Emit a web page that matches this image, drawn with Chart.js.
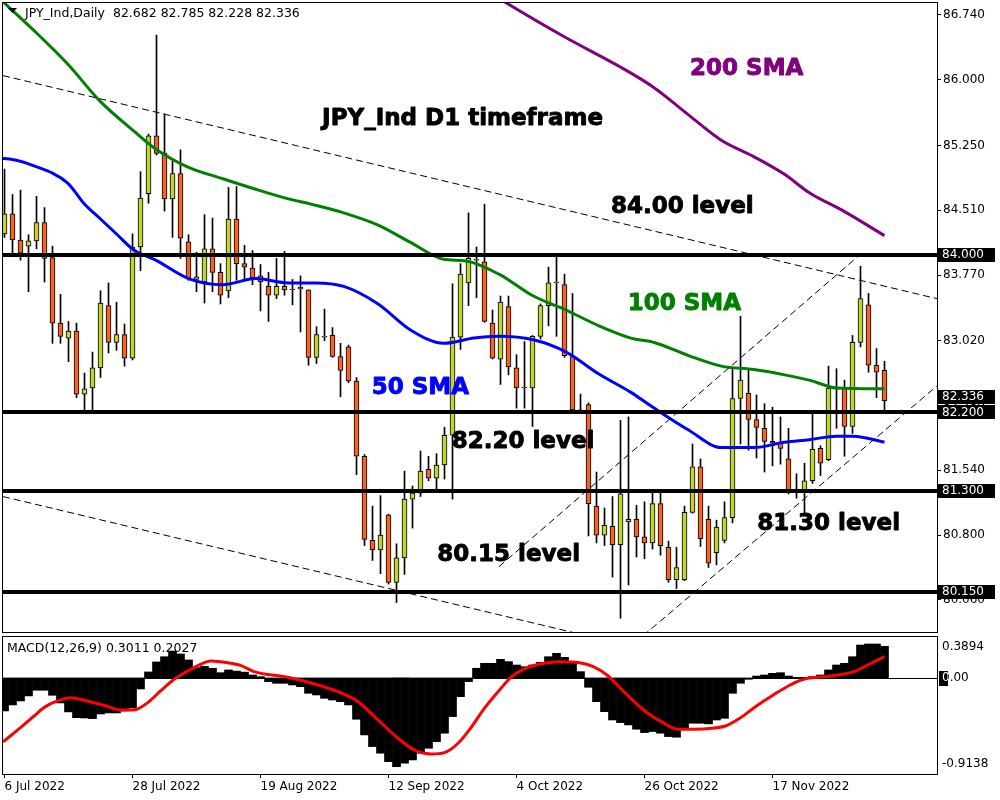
<!DOCTYPE html>
<html>
<head>
<meta charset="utf-8">
<script src="https://cdn.jsdelivr.net/npm/chart.js@4.4.0/dist/chart.umd.min.js"></script>
<style>
html, body { margin: 0; padding: 0; background: #fff; }
#wrap { position: relative; width: 1000px; height: 800px; overflow: hidden; }
#main { position: absolute; left: 0; top: 0; }
#macd { position: absolute; left: 0; top: 634px; }
</style>
</head>
<body>
<div id="wrap">
  <canvas id="main" width="1000" height="634"></canvas>
  <canvas id="macd" width="1000" height="166"></canvas>
</div>
<script>
// date ticks on the bottom axis (bar index -> label)
const tickBars = [0, 16, 32, 48, 64, 80, 96];
const tickLabels = ['6 Jul 2022', '28 Jul 2022', '19 Aug 2022', '12 Sep 2022', '4 Oct 2022', '26 Oct 2022', '17 Nov 2022'];

// daily candles, 6 Jul 2022 .. 7 Dec 2022
const opens = [
  84.24, 84.47, 84.17, 84.10, 84.16, 84.37, 83.97, 83.22, 83.05, 83.13,
  82.41, 82.48, 82.71, 83.42, 83.00, 83.09, 82.82, 84.09, 84.70, 85.36,
  85.16, 84.64, 84.93, 84.15, 83.72, 83.69, 84.07, 83.80, 83.59, 84.41,
  83.90, 83.85, 83.76, 83.64, 83.54, 83.64, 83.61, 83.63, 83.60, 82.83,
  83.06, 83.08, 82.84, 82.95, 82.56, 81.70, 80.74, 80.63, 81.03, 80.26,
  80.54, 81.21, 81.28, 81.55, 81.45, 81.60, 81.94, 83.06, 83.68, 83.94,
  83.92, 83.22, 82.81, 83.41, 82.71, 82.49, 82.48, 83.07, 83.42, 83.68,
  83.66, 82.84, 82.23, 82.29, 81.13, 80.80, 80.90, 80.69, 80.95, 80.98,
  80.78, 80.71, 81.16, 80.66, 80.29, 80.29, 81.06, 81.58, 80.98, 80.60,
  80.74, 81.00, 82.36, 82.42, 82.12, 82.02, 81.87, 81.85, 81.67, 81.31,
  81.31, 81.42, 81.79, 81.66, 82.48, 82.48, 82.04, 83.00, 83.43, 82.74,
  82.682
];
const highs = [
  84.98, 84.69, 84.74, 84.23, 84.67, 84.54, 84.10, 83.55, 83.24, 83.22,
  82.65, 82.89, 83.59, 83.68, 83.46, 83.21, 84.24, 84.95, 85.38, 86.51,
  85.61, 85.07, 85.20, 84.23, 84.03, 84.46, 84.42, 83.90, 84.77, 84.78,
  84.11, 84.05, 83.89, 83.80, 83.96, 84.04, 83.72, 83.76, 83.60, 83.18,
  83.38, 83.17, 82.99, 82.97, 82.60, 81.72, 81.13, 81.25, 81.04, 80.70,
  81.53, 81.36, 81.76, 81.70, 81.73, 82.03, 83.67, 83.90, 84.48, 84.09,
  84.58, 83.37, 83.53, 83.53, 82.86, 83.01, 83.08, 83.44, 83.86, 83.98,
  83.78, 83.56, 82.41, 82.31, 81.52, 81.11, 81.24, 82.11, 82.15, 81.14,
  81.18, 81.28, 81.28, 80.73, 80.66, 81.13, 81.84, 81.67, 81.13, 80.97,
  81.18, 82.71, 83.30, 82.69, 82.40, 82.30, 82.26, 82.15, 82.02, 81.50,
  81.62, 82.20, 81.82, 82.73, 82.70, 82.57, 83.08, 83.87, 83.56, 82.93,
  82.785
];
const lows = [
  84.20, 84.02, 83.94, 83.58, 84.07, 83.69, 82.99, 82.99, 82.78, 82.37,
  82.23, 82.23, 82.60, 82.88, 82.91, 82.73, 82.80, 83.82, 84.59, 85.14,
  84.50, 84.20, 83.96, 83.71, 83.58, 83.45, 83.58, 83.44, 83.51, 83.71,
  83.71, 83.66, 83.36, 83.24, 83.50, 83.54, 83.43, 83.12, 82.74, 82.76,
  83.02, 82.83, 82.38, 82.54, 81.49, 80.68, 80.51, 80.36, 80.24, 80.03,
  80.35, 80.88, 81.24, 81.42, 81.31, 81.44, 81.21, 82.92, 83.42, 83.51,
  83.23, 82.81, 82.52, 82.63, 82.25, 82.25, 82.04, 83.04, 83.19, 83.07,
  82.83, 82.23, 82.20, 80.79, 80.71, 80.68, 80.32, 79.85, 80.23, 80.55,
  80.53, 80.64, 80.57, 80.26, 80.19, 80.28, 81.05, 80.67, 80.43, 80.46,
  80.71, 80.94, 81.84, 81.77, 81.68, 81.52, 81.59, 81.61, 81.27, 81.22,
  81.05, 81.39, 81.48, 81.65, 82.02, 81.70, 81.96, 82.95, 82.66, 82.37,
  82.228
];
const closes = [
  84.47, 84.17, 84.02, 84.16, 84.37, 83.96, 83.22, 83.07, 83.13, 82.41,
  82.47, 82.71, 83.45, 83.00, 83.09, 82.82, 84.09, 84.65, 85.36, 85.16,
  84.64, 84.93, 84.19, 83.73, 83.75, 84.07, 83.80, 83.54, 84.41, 83.90,
  83.86, 83.74, 83.69, 83.54, 83.64, 83.60, 83.60, 83.61, 82.83, 83.09,
  83.07, 82.84, 82.68, 82.56, 81.70, 80.75, 80.63, 80.80, 80.26, 80.54,
  81.21, 81.28, 81.53, 81.45, 81.60, 81.94, 83.06, 83.78, 83.96, 83.95,
  83.24, 82.82, 83.46, 82.72, 82.48, 82.48, 83.07, 83.42, 83.68, 83.69,
  82.85, 82.23, 82.22, 81.16, 80.80, 80.91, 80.69, 81.27, 80.98, 80.78,
  80.71, 81.16, 80.68, 80.29, 80.43, 81.06, 81.58, 80.76, 80.48, 80.89,
  81.00, 82.36, 82.57, 82.12, 82.03, 81.87, 81.85, 81.79, 81.31, 81.30,
  81.42, 81.78, 81.62, 82.48, 82.47, 82.04, 83.00, 83.50, 82.74, 82.66,
  82.336
];

// moving averages: [bar index, price]
const sma50 = [
  [-1, 85.10], [-0.1, 85.10], [3.6, 85.02], [7.9, 84.82], [9.9, 84.59], [12.0, 84.41],
  [14.1, 84.23], [16.1, 84.06], [18.9, 83.94], [23.0, 83.73], [27.3, 83.66],
  [31.4, 83.73], [35.5, 83.68], [38.9, 83.68], [42.4, 83.64], [46.7, 83.44],
  [50.8, 83.14], [54.9, 82.99], [58.7, 83.05], [61.8, 83.07], [66.1, 83.03],
  [70.2, 82.89], [74.3, 82.64], [78.3, 82.43], [81.2, 82.25], [85.5, 82.00],
  [89.6, 81.80], [93.7, 81.80], [97.5, 81.86], [100.6, 81.89], [104.0, 81.93],
  [106.1, 81.93], [110, 81.86]
];
const sma100 = [
  [-1, 86.96], [3.6, 86.57], [7.9, 86.18], [12.0, 85.75], [16.1, 85.42], [18.9, 85.21],
  [23.0, 85.00], [27.3, 84.87], [31.4, 84.75], [35.5, 84.64], [38.3, 84.58],
  [42.4, 84.48], [46.7, 84.34], [50.8, 84.14], [54.9, 83.95], [57.7, 83.93],
  [61.8, 83.78], [66.1, 83.53], [70.2, 83.37], [74.3, 83.19], [78.3, 83.05],
  [81.2, 83.00], [85.5, 82.85], [89.6, 82.73], [93.7, 82.69], [97.5, 82.63],
  [100.6, 82.57], [104.0, 82.48], [110, 82.47]
];
const sma200 = [
  [61.5, 86.95], [62.7, 86.88], [70.2, 86.48], [77.1, 86.14], [81.2, 85.91],
  [85.5, 85.60], [89.6, 85.31], [93.7, 85.12], [97.5, 84.92], [100.6, 84.71],
  [104.9, 84.50], [110, 84.22]
];

// dashed channel lines: two ends each, [bar index, price]
const trendLines = [
  [[-0.19, 86.048], [116.56, 83.50]],
  [[-0.19, 81.24], [72.8, 79.65]],
  [[61.8, 80.439], [106.9, 84.00]],
  [[79.8, 79.648], [116.56, 82.503]]
];

// horizontal levels and right axis ticks
const levels = [84.0, 82.2, 81.3, 80.15];
const priceTicks = [86.74, 86.0, 85.25, 84.51, 83.77, 83.02, 82.28, 81.54, 80.8, 80.06];
const priceBoxes = [['84.000', 84.0, 0], ['82.336', 82.336, -4], ['82.200', 82.2, 0], ['81.300', 81.3, 0], ['80.150', 80.15, 0]];

// text notes: [text, bar index, price, colour]
const notes = [
  ['JPY_Ind D1 timeframe', 39.7, 85.552, '#000000'],
  ['200 SMA', 85.7, 86.123, '#800080'],
  ['84.00 level', 75.8, 84.547, '#000000'],
  ['100 SMA', 77.9, 83.44, '#008000'],
  ['50 SMA', 45.9, 82.48, '#0000ff'],
  ['82.20 level', 55.9, 81.862, '#000000'],
  ['80.15 level', 54.1, 80.573, '#000000'],
  ['81.30 level', 94.1, 80.93, '#000000']
];

// MACD(12,26,9)
const macdHist = [
  -0.314, -0.257, -0.219, -0.171, -0.117, -0.117, -0.165, -0.238, -0.323, -0.378,
  -0.381, -0.387, -0.343, -0.333, -0.333, -0.314, -0.286, -0.105, 0.057, 0.152,
  0.202, 0.256, 0.228, 0.171, 0.098, 0.110, 0.092, 0.050, 0.076, 0.065,
  0.055, 0.028, 0.012, -0.035, -0.051, -0.051, -0.067, -0.083, -0.146, -0.162,
  -0.194, -0.210, -0.226, -0.257, -0.393, -0.542, -0.653, -0.716, -0.796, -0.843,
  -0.811, -0.780, -0.716, -0.669, -0.606, -0.526, -0.368, -0.178, -0.035, 0.092,
  0.139, 0.139, 0.177, 0.155, 0.123, 0.107, 0.123, 0.149, 0.202, 0.234,
  0.196, 0.139, 0.060, -0.089, -0.226, -0.321, -0.400, -0.425, -0.447, -0.488,
  -0.520, -0.510, -0.526, -0.558, -0.564, -0.478, -0.431, -0.431, -0.437, -0.400,
  -0.384, -0.146, -0.051, -0.013, 0.018, 0.028, 0.044, 0.050, 0.018, 0.005,
  0.005, 0.012, 0.028, 0.076, 0.123, 0.139, 0.202, 0.313, 0.323, 0.323,
  0.301
];
const macdSignal = [
  [-0.2, -0.609], [2.0, -0.473], [3.7, -0.362], [4.9, -0.283], [6.6, -0.219], [8.3, -0.188],
  [10.3, -0.219], [12.4, -0.260], [14.5, -0.304], [16.2, -0.304], [17.9, -0.235],
  [19.5, -0.124], [21.2, -0.013], [22.9, 0.066], [24.5, 0.130], [25.8, 0.161],
  [27.9, 0.145], [29.5, 0.120], [31.2, 0.060], [35.4, 0.006], [39.2, -0.067],
  [41.7, -0.131], [44.2, -0.226], [46.7, -0.400], [49.2, -0.574], [51.2, -0.685],
  [53.3, -0.723], [55.0, -0.710], [56.7, -0.621], [58.3, -0.474], [60.0, -0.288],
  [61.7, -0.131], [63.4, 0.012], [65.1, 0.092], [66.8, 0.130], [69.3, 0.155],
  [71.9, 0.145], [73.6, 0.107], [75.3, 0.028], [77.0, -0.098], [78.7, -0.226],
  [80.4, -0.336], [82.1, -0.416], [84.2, -0.488], [86.3, -0.488], [88.4, -0.479],
  [90.1, -0.457], [91.9, -0.384], [94.0, -0.266], [96.1, -0.162], [98.2, -0.067],
  [99.9, -0.013], [102.4, 0.012], [104.9, 0.038], [106.2, 0.060], [107.9, 0.123],
  [110, 0.2027]
];
const macdTicks = [['0.3894', 0.3894], ['0.00', 0], ['-0.9138', -0.9138]];

// ---- chart setup ----
const xMin = -0.1875, xMax = 116.5625;   // 8px per bar
const priceMin = 79.693, priceMax = 86.877;
const macdMin = -0.9138, macdMax = 0.3894;
const bullColor = '#c3d330';
const bearColor = '#f26522';
const axisFont = { family: 'DejaVu Sans', size: 12 };

const bars = closes.map((c, i) => i);
const bodyColors = bars.map(i => closes[i] >= opens[i] ? bullColor : bearColor);
const toPts = arr => arr.map(p => ({ x: p[0], y: p[1] }));

function smaSet(points, color) {
  return {
    type: 'line', data: toPts(points), borderColor: color, borderWidth: 3,
    pointRadius: 0, cubicInterpolationMode: 'monotone', clip: 0, order: 2
  };
}

const mainOverlay = {
  id: 'mainOverlay',
  afterDatasetsDraw(chart) {
    const { ctx, chartArea: a, scales: { x, y } } = chart;
    ctx.save();
    // level lines
    ctx.strokeStyle = '#000';
    ctx.lineWidth = 4;
    levels.forEach(v => {
      const py = Math.round(y.getPixelForValue(v));
      ctx.beginPath();
      ctx.moveTo(a.left, py);
      ctx.lineTo(a.right + 4, py);
      ctx.stroke();
    });
    // text notes, stroked a little to look heavier
    ctx.font = 'bold 23px "DejaVu Sans"';
    ctx.textBaseline = 'middle';
    ctx.textAlign = 'left';
    ctx.lineWidth = 0.9;
    ctx.lineJoin = 'round';
    notes.forEach(n => {
      const px = x.getPixelForValue(n[1]);
      const py = y.getPixelForValue(n[2]);
      ctx.fillStyle = n[3];
      ctx.strokeStyle = n[3];
      ctx.fillText(n[0], px, py);
      ctx.strokeText(n[0], px, py);
    });
    ctx.restore();
  },
  afterDraw(chart) {
    const { ctx, chartArea: a, scales: { y } } = chart;
    ctx.save();
    // frame
    ctx.strokeStyle = '#000';
    ctx.lineWidth = 1;
    ctx.strokeRect(a.left - 0.5, a.top - 0.5, a.right - a.left + 1, a.bottom - a.top + 1);
    // header
    ctx.fillStyle = '#000';
    ctx.beginPath();
    ctx.moveTo(8, 8); ctx.lineTo(17, 8); ctx.lineTo(12.5, 13); ctx.closePath();
    ctx.fill();
    ctx.font = '12.5px "DejaVu Sans"';
    ctx.textBaseline = 'middle';
    ctx.fillText('JPY_Ind,Daily  82.682 82.785 82.228 82.336', 25, 14);
    // price boxes on the axis
    ctx.font = '12px "DejaVu Sans"';
    priceBoxes.forEach(b => {
      const py = y.getPixelForValue(b[1]) + b[2];
      ctx.fillStyle = '#000';
      ctx.fillRect(a.right, Math.round(py - 7), 58, 14);
      ctx.fillStyle = '#fff';
      ctx.fillText(b[0], a.right + 5, py);
    });
    ctx.restore();
  }
};

const macdOverlay = {
  id: 'macdOverlay',
  beforeDatasetsDraw(chart) {
    const { ctx, chartArea: a, scales: { y } } = chart;
    const py = Math.round(y.getPixelForValue(0)) + 0.5;
    ctx.save();
    ctx.strokeStyle = '#000';
    ctx.lineWidth = 1;
    ctx.beginPath();
    ctx.moveTo(a.left, py);
    ctx.lineTo(a.right, py);
    ctx.stroke();
    ctx.restore();
  },
  afterDraw(chart) {
    const { ctx, chartArea: a, scales: { y } } = chart;
    ctx.save();
    ctx.strokeStyle = '#000';
    ctx.lineWidth = 1;
    ctx.strokeRect(a.left - 0.5, a.top - 0.5, a.right - a.left + 1, a.bottom - a.top + 1);
    ctx.font = '12.5px "DejaVu Sans"';
    ctx.textBaseline = 'middle';
    ctx.fillStyle = '#000';
    ctx.fillText('MACD(12,26,9) 0.3011 0.2027', 7, a.top + 12);
    // axis labels, kept inside the panel at the ends
    ctx.font = '12px "DejaVu Sans"';
    macdTicks.forEach(t => {
      let py = y.getPixelForValue(t[1]);
      if (t[1] === macdMax) py += 10;
      if (t[1] === macdMin) py -= 10;
      if (t[1] === 0) {
        ctx.fillStyle = '#000';
        ctx.fillRect(a.right + 2, Math.round(py - 7), 9, 15);
        ctx.fillText('0.00', a.right + 5, py);
        ctx.save();
        ctx.beginPath();
        ctx.rect(a.right + 2, py - 8, 9, 16);
        ctx.clip();
        ctx.fillStyle = '#fff';
        ctx.fillText('0.00', a.right + 5, py);
        ctx.restore();
      } else {
        ctx.fillStyle = '#000';
        ctx.fillText(t[0], a.right + 5, py);
      }
    });
    ctx.restore();
  }
};

const mainChart = new Chart(document.getElementById('main'), {
  type: 'bar',
  data: {
    datasets: [
      {
        type: 'bar', label: 'wicks',
        data: bars.map(i => ({ x: i, y: [lows[i], highs[i]] })),
        backgroundColor: '#000', barThickness: 1, grouped: false, order: 4
      },
      {
        type: 'bar', label: 'bodies',
        data: bars.map(i => ({ x: i, y: [opens[i], closes[i]] })),
        backgroundColor: bodyColors, borderColor: '#000', borderWidth: 1,
        borderSkipped: false, barThickness: 5, grouped: false, order: 3
      },
      smaSet(sma50, '#0000ff'),
      smaSet(sma100, '#008000'),
      smaSet(sma200, '#800080'),
      ...trendLines.map(t => ({
        type: 'line', data: toPts(t), borderColor: '#000', borderWidth: 1,
        borderDash: [7, 4], pointRadius: 0, clip: 0, order: 1
      }))
    ]
  },
  options: {
    responsive: false,
    animation: false,
    layout: { padding: { left: 3, top: 3, right: 0, bottom: 2 } },
    plugins: { legend: { display: false }, tooltip: { enabled: false } },
    scales: {
      x: { type: 'linear', min: xMin, max: xMax, offset: false, display: false },
      y: {
        position: 'right', min: priceMin, max: priceMax,
        afterBuildTicks: s => { s.ticks = priceTicks.map(v => ({ value: v })); },
        ticks: { callback: v => Number(v).toFixed(3), font: axisFont, color: '#000', padding: 2 },
        grid: { drawOnChartArea: false, tickLength: 4, color: '#000' },
        border: { display: true, color: '#000' },
        afterFit: s => { s.width = 63; s.paddingTop = 0; s.paddingBottom = 0; }
      }
    }
  },
  plugins: [mainOverlay]
});

const macdChart = new Chart(document.getElementById('macd'), {
  type: 'bar',
  data: {
    datasets: [
      {
        type: 'line', label: 'signal', data: toPts(macdSignal), borderColor: '#ff0000',
        borderWidth: 3, pointRadius: 0, cubicInterpolationMode: 'monotone', clip: 0, order: 1
      },
      {
        type: 'bar', label: 'macd', data: macdHist.map((v, i) => ({ x: i, y: v })),
        backgroundColor: '#000', barThickness: 8, grouped: false, order: 2
      }
    ]
  },
  options: {
    responsive: false,
    animation: false,
    layout: { padding: { left: 3, top: 3, right: 0, bottom: 0 } },
    plugins: { legend: { display: false }, tooltip: { enabled: false } },
    scales: {
      x: {
        type: 'linear', min: xMin, max: xMax, offset: false,
        afterBuildTicks: s => { s.ticks = tickBars.map(v => ({ value: v })); },
        ticks: {
          callback: (v, i) => tickLabels[i] || '', align: 'start', maxRotation: 0,
          autoSkip: false, font: axisFont, color: '#000', padding: 2
        },
        grid: { drawOnChartArea: false, tickLength: 4, color: '#000', offset: false },
        border: { display: true, color: '#000' },
        afterFit: s => { s.height = 26; s.paddingLeft = 0; s.paddingRight = 0; }
      },
      y: {
        position: 'right', min: macdMin, max: macdMax,
        ticks: { display: false },
        grid: { display: false },
        border: { display: true, color: '#000' },
        afterFit: s => { s.width = 63; s.paddingTop = 0; s.paddingBottom = 0; }
      }
    }
  },
  plugins: [macdOverlay]
});
</script>
</body>
</html>
